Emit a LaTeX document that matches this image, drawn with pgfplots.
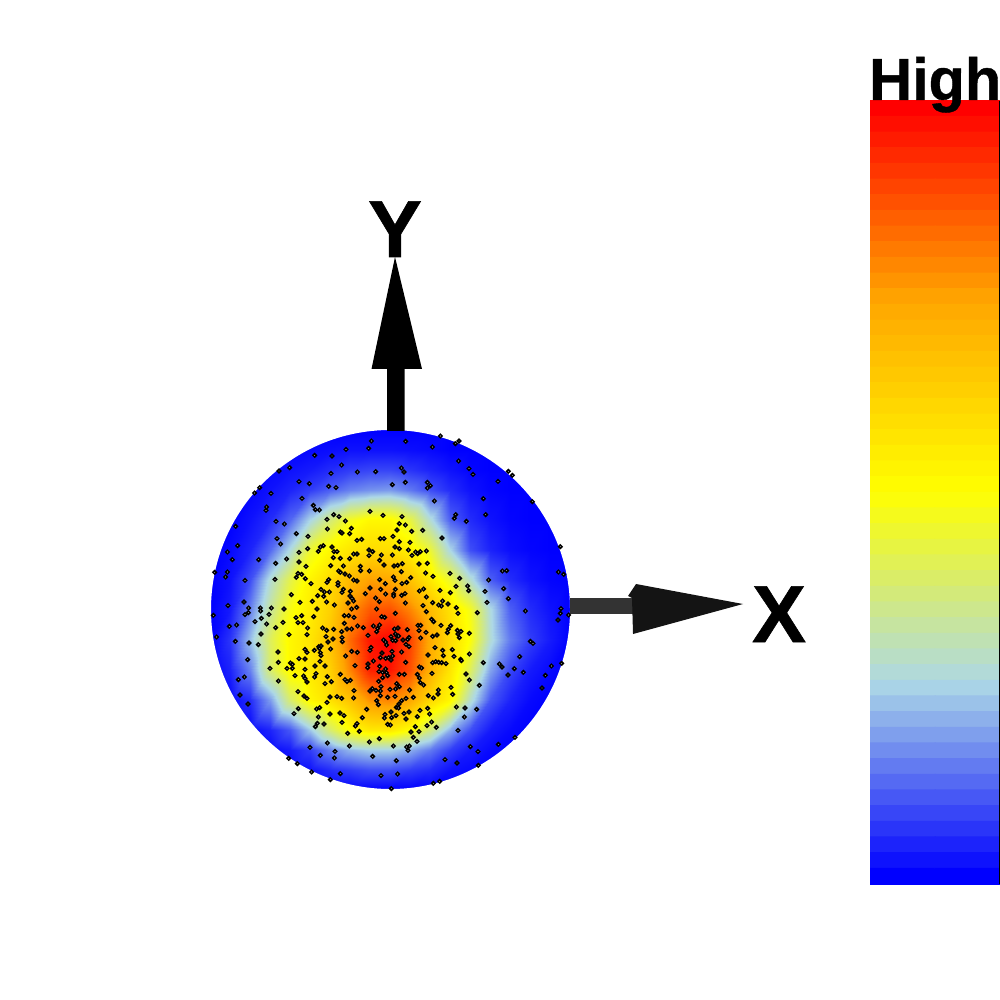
\documentclass[border=0pt]{standalone}
\usepackage{pgfplots}
\pgfplotsset{compat=1.18}
\usepackage{fontspec}
\setmainfont{Liberation Sans}
\newfontfamily\heavy[UprightFont={* Bold},UprightFeatures={FakeBold=0.7}]{Liberation Sans}
\begin{document}
\begin{tikzpicture}
\begin{axis}[
  scale only axis, width=10cm, height=10cm, hide axis,
  xmin=0, xmax=1000, ymin=0, ymax=1000, y dir=reverse,
  point meta min=0, point meta max=1,
  colormap={heat5}{rgb255(0cm)=(0,0,255); rgb255(1cm)=(173,216,230); rgb255(2cm)=(255,255,0); rgb255(3cm)=(255,165,0); rgb255(4cm)=(255,0,0)},
]
\path[use as bounding box] (0,0) rectangle (1000,1000);
\addplot[surf, shader=interp, mesh/cols=19, point meta=explicit] table[x=x, y=y, meta=v, row sep=\\] {
x y v\\
210 430 0\\ 230 430 0\\ 250 430 0\\ 270 430 0\\ 290 430 0\\ 310 430 0\\ 330 430 0\\ 350 430 0\\ 370 430 0\\ 390 430 0\\ 410 430 0\\ 430 430 0\\ 450 430 0\\ 470 430 0\\ 490 430 0\\ 510 430 0\\ 530 430 0\\ 550 430 0\\ 570 430 0\\
210 450 0\\ 230 450 0\\ 250 450 0\\ 270 450 0\\ 290 450 0.005\\ 310 450 0.01\\ 330 450 0.015\\ 350 450 0.02\\ 370 450 0.02\\ 390 450 0.02\\ 410 450 0.015\\ 430 450 0.01\\ 450 450 0\\ 470 450 0\\ 490 450 0\\ 510 450 0\\ 530 450 0\\ 550 450 0\\ 570 450 0\\
210 470 0\\ 230 470 0\\ 250 470 0\\ 270 470 0.01\\ 290 470 0.02\\ 310 470 0.03\\ 330 470 0.05\\ 350 470 0.07\\ 370 470 0.08\\ 390 470 0.08\\ 410 470 0.06\\ 430 470 0.04\\ 450 470 0.02\\ 470 470 0.005\\ 490 470 0\\ 510 470 0\\ 530 470 0\\ 550 470 0\\ 570 470 0\\
210 490 0\\ 230 490 0\\ 250 490 0.005\\ 270 490 0.02\\ 290 490 0.04\\ 310 490 0.07\\ 330 490 0.11\\ 350 490 0.15\\ 370 490 0.17\\ 390 490 0.18\\ 410 490 0.14\\ 430 490 0.09\\ 450 490 0.05\\ 470 490 0.02\\ 490 490 0.005\\ 510 490 0\\ 530 490 0\\ 550 490 0\\ 570 490 0\\
210 520 0\\ 230 520 0\\ 250 520 0.02\\ 270 520 0.05\\ 290 520 0.12\\ 310 520 0.25\\ 330 520 0.37\\ 350 520 0.47\\ 370 520 0.52\\ 390 520 0.52\\ 410 520 0.43\\ 430 520 0.27\\ 450 520 0.11\\ 470 520 0.05\\ 490 520 0.02\\ 510 520 0.005\\ 530 520 0\\ 550 520 0\\ 570 520 0\\
210 550 0\\ 230 550 0.01\\ 250 550 0.04\\ 270 550 0.12\\ 290 550 0.26\\ 310 550 0.45\\ 330 550 0.52\\ 350 550 0.57\\ 370 550 0.60\\ 390 550 0.59\\ 410 550 0.54\\ 430 550 0.44\\ 450 550 0.25\\ 470 550 0.09\\ 490 550 0.04\\ 510 550 0.015\\ 530 550 0.005\\ 550 550 0\\ 570 550 0\\
210 580 0\\ 230 580 0.02\\ 250 580 0.09\\ 270 580 0.27\\ 290 580 0.42\\ 310 580 0.53\\ 330 580 0.60\\ 350 580 0.70\\ 370 580 0.76\\ 390 580 0.74\\ 410 580 0.67\\ 430 580 0.56\\ 450 580 0.45\\ 470 580 0.28\\ 490 580 0.11\\ 510 580 0.05\\ 530 580 0.02\\ 550 580 0.005\\ 570 580 0\\
210 610 0\\ 230 610 0.03\\ 250 610 0.15\\ 270 610 0.33\\ 290 610 0.48\\ 310 610 0.55\\ 330 610 0.63\\ 350 610 0.78\\ 370 610 0.87\\ 390 610 0.88\\ 410 610 0.80\\ 430 610 0.69\\ 450 610 0.58\\ 470 610 0.47\\ 490 610 0.26\\ 510 610 0.11\\ 530 610 0.05\\ 550 610 0.02\\ 570 610 0\\
210 640 0\\ 230 640 0.06\\ 250 640 0.22\\ 270 640 0.40\\ 290 640 0.52\\ 310 640 0.57\\ 330 640 0.67\\ 350 640 0.84\\ 370 640 0.97\\ 390 640 1\\ 410 640 0.90\\ 430 640 0.73\\ 450 640 0.60\\ 470 640 0.49\\ 490 640 0.27\\ 510 640 0.14\\ 530 640 0.07\\ 550 640 0.03\\ 570 640 0\\
210 670 0\\ 230 670 0.04\\ 250 670 0.15\\ 270 670 0.38\\ 290 670 0.52\\ 310 670 0.56\\ 330 670 0.63\\ 350 670 0.80\\ 370 670 0.95\\ 390 670 0.97\\ 410 670 0.88\\ 430 670 0.72\\ 450 670 0.57\\ 470 670 0.40\\ 490 670 0.19\\ 510 670 0.08\\ 530 670 0.03\\ 550 670 0.01\\ 570 670 0\\
210 700 0\\ 230 700 0.01\\ 250 700 0.05\\ 270 700 0.18\\ 290 700 0.38\\ 310 700 0.52\\ 330 700 0.58\\ 350 700 0.67\\ 370 700 0.78\\ 390 700 0.80\\ 410 700 0.74\\ 430 700 0.61\\ 450 700 0.52\\ 470 700 0.28\\ 490 700 0.10\\ 510 700 0.04\\ 530 700 0.01\\ 550 700 0\\ 570 700 0\\
210 730 0\\ 230 730 0\\ 250 730 0.01\\ 270 730 0.04\\ 290 730 0.10\\ 310 730 0.23\\ 330 730 0.38\\ 350 730 0.50\\ 370 730 0.56\\ 390 730 0.56\\ 410 730 0.50\\ 430 730 0.36\\ 450 730 0.20\\ 470 730 0.09\\ 490 730 0.03\\ 510 730 0.01\\ 530 730 0\\ 550 730 0\\ 570 730 0\\
210 750 0\\ 230 750 0\\ 250 750 0\\ 270 750 0.01\\ 290 750 0.03\\ 310 750 0.07\\ 330 750 0.15\\ 350 750 0.21\\ 370 750 0.24\\ 390 750 0.24\\ 410 750 0.20\\ 430 750 0.14\\ 450 750 0.07\\ 470 750 0.03\\ 490 750 0.01\\ 510 750 0\\ 530 750 0\\ 550 750 0\\ 570 750 0\\
210 770 0\\ 230 770 0\\ 250 770 0\\ 270 770 0\\ 290 770 0.01\\ 310 770 0.02\\ 330 770 0.05\\ 350 770 0.07\\ 370 770 0.09\\ 390 770 0.09\\ 410 770 0.07\\ 430 770 0.05\\ 450 770 0.02\\ 470 770 0.01\\ 490 770 0\\ 510 770 0\\ 530 770 0\\ 550 770 0\\ 570 770 0\\
210 790 0\\ 230 790 0\\ 250 790 0\\ 270 790 0\\ 290 790 0\\ 310 790 0\\ 330 790 0\\ 350 790 0\\ 370 790 0\\ 390 790 0\\ 410 790 0\\ 430 790 0\\ 450 790 0\\ 470 790 0\\ 490 790 0\\ 510 790 0\\ 530 790 0\\ 550 790 0\\ 570 790 0\\
};
\fill[white, even odd rule] (200,420) rectangle (580,800) (390.5,609.5) circle[radius=179.5];
% arrows
\fill[black] (387,431) -- (387,369) -- (371.5,369) -- (395,257) -- (422,369) -- (404.5,369) -- (404.5,431) -- cycle;
\fill[black!80] (570,598) rectangle (634,614);
\fill[black!92] (636,584) -- (743,604) -- (633,634) -- (632,598) -- (628,596) -- cycle;
\node[anchor=base, inner sep=0pt, font=\fontsize{23}{23}\selectfont\heavy] at (395,257) {Y};
\node[anchor=base, inner sep=0pt, font=\fontsize{23}{23}\selectfont\heavy] at (779,642) {X};
% points, read from enlarged crops (crop coordinate /3 + crop origin)
\pgfplotsset{dots/.style={only marks, mark=*, mark size=0.5pt, mark options={fill=white, draw=black, line width=0.42pt}}}
\addplot[dots] table[x expr=210+\thisrowno{0}/3, y expr=430+\thisrowno{1}/3, row sep=\\, header=false] {
484 33\\476 55\\408 58\\366 78\\314 76\\395 105\\239 113\\207 123\\363 130\\442 126\\497 125\\267 155\\298 161\\149 173\\134 189\\183 190\\356 169\\378 173\\276 205\\310 226\\170 231\\168 241\\316 239\\328 240\\480 244\\519 256\\371 254\\387 260\\351 268\\406 273\\198 274\\223 282\\77 289\\352 297\\424 295\\391 306\\396 309\\419 311\\259 311\\294 319\\201 326\\441 331\\455 328\\511 326\\522 326\\212 342\\83 347\\340 347\\331 351\\366 351\\293 356\\325 364\\372 365\\381 365\\267 367\\52 366\\477 360\\488 365\\431 372\\441 372\\514 375\\477 377\\370 383\\391 385\\419 386\\230 387\\146 389\\67 389\\509 391\\522 405\\267 396\\197 400\\362 407\\400 408\\451 409\\288 409\\452 422\\478 423\\386 423\\391 427\\405 432\\52 426\\418 438\\264 430\\275 433\\14 427\\47 441\\259 442\\286 446\\431 450\\441 453\\509 449\\105 451\\195 448\\356 449\\351 457\\384 458\\303 461\\526 461\\384 466\\480 474\\512 478\\333 478\\400 478\\343 486\\358 486\\396 487\\421 484\\466 491\\527 492\\244 494\\323 497\\341 499\\420 498\\426 505\\497 504\\431 513\\508 515\\102 516\\270 517\\307 514\\350 516\\414 519\\54 527\\373 525\\440 532\\116 534\\151 534\\184 534\\222 537\\321 537\\425 537\\500 537\\
};
\addplot[dots] table[x expr=390+\thisrowno{0}/3, y expr=430+\thisrowno{1}/3, row sep=\\, header=false] {
151 18\\47 34\\207 33\\196 41\\127 51\\206 93\\237 116\\34 114\\42 126\\249 133\\355 124\\367 136\\324 154\\7 164\\46 157\\112 157\\121 167\\112 174\\280 206\\133 213\\427 215\\36 260\\197 254\\193 265\\287 254\\229 274\\28 281\\46 285\\21 300\\65 304\\98 301\\9 319\\156 324\\28 335\\60 337\\15 351\\28 356\\55 360\\7 375\\77 366\\83 371\\91 365\\66 376\\109 363\\511 350\\37 401\\87 402\\112 400\\12 408\\23 406\\34 425\\107 429\\337 423\\350 422\\505 426\\521 433\\180 430\\10 441\\62 443\\129 439\\209 445\\15 451\\296 450\\50 457\\36 461\\198 469\\233 468\\341 476\\16 478\\150 481\\88 483\\101 477\\236 482\\285 484\\181 488\\11 492\\45 491\\35 496\\11 498\\109 501\\355 506\\158 513\\46 519\\128 518\\291 517\\146 525\\174 522\\99 527\\154 528\\199 533\\513 536\\
};
\addplot[dots] table[x expr=210+\thisrowno{0}/3, y expr=610+\thisrowno{1}/3, row sep=\\, header=false] {
10 16\\105 14\\115 8\\152 3\\177 13\\154 25\\135 35\\170 42\\58 49\\80 45\\197 53\\219 37\\258 23\\275 17\\311 20\\264 38\\279 38\\293 54\\338 54\\350 61\\371 58\\395 65\\403 40\\411 57\\425 57\\443 48\\460 53\\403 17\\416 17\\432 22\\490 48\\509 45\\503 55\\500 65\\515 20\\524 22\\237 74\\291 74\\153 72\\348 80\\369 87\\396 83\\397 95\\474 76\\20 81\\76 94\\117 99\\145 104\\354 96\\521 90\\527 96\\530 105\\204 126\\285 118\\291 127\\313 121\\326 110\\333 108\\328 115\\362 117\\425 124\\442 127\\483 112\\480 121\\331 128\\333 137\\407 138\\516 129\\113 149\\267 146\\285 147\\205 157\\241 159\\247 163\\345 168\\330 154\\315 168\\474 162\\490 153\\511 143\\527 145\\536 143\\435 167\\180 175\\231 175\\247 175\\285 178\\473 173\\509 169\\527 177\\507 185\\518 187\\529 188\\391 193\\318 191\\314 201\\255 197\\281 198\\285 205\\352 200\\103 201\\85 209\\205 213\\291 216\\405 209\\421 211\\411 215\\345 221\\364 215\\506 214\\518 203\\533 197\\264 245\\432 242\\480 243\\487 236\\498 241\\513 230\\511 243\\511 257\\533 262\\90 255\\282 258\\291 265\\360 261\\381 260\\395 265\\431 264\\500 272\\351 277\\114 282\\505 284\\265 296\\320 297\\329 293\\390 309\\402 317\\360 312\\252 311\\470 298\\325 321\\525 313\\523 324\\457 323\\322 340\\342 342\\396 337\\316 350\\441 341\\436 348\\533 343\\448 364\\413 370\\508 386\\478 396\\352 399\\300 412\\418 408\\375 424\\331 436\\373 444\\488 439\\236 445\\262 461\\305 486\\391 491\\513 497\\361 509\\
};
\addplot[dots] table[x expr=390+\thisrowno{0}/3, y expr=610+\thisrowno{1}/3, row sep=\\, header=false] {
16 10\\109 5\\204 10\\262 8\\406 3\\511 10\\536 15\\504 30\\125 28\\131 35\\84 46\\92 46\\153 46\\182 47\\175 58\\172 68\\13 57\\24 54\\52 59\\87 62\\108 67\\202 61\\213 64\\204 72\\238 70\\141 75\\128 79\\208 83\\57 82\\53 88\\92 84\\16 72\\21 78\\26 78\\3 80\\8 91\\17 92\\39 90\\421 94\\429 100\\48 103\\57 110\\135 113\\187 119\\158 121\\6 124\\35 126\\238 132\\114 135\\160 137\\192 139\\389 140\\8 138\\3 150\\212 148\\214 152\\137 155\\128 158\\146 157\\155 158\\168 161\\47 157\\280 158\\328 162\\336 171\\373 176\\88 171\\95 174\\484 168\\515 160\\126 190\\82 193\\28 193\\43 193\\400 187\\354 195\\228 192\\466 196\\88 204\\238 210\\91 218\\101 225\\20 221\\28 230\\17 237\\0 238\\59 240\\268 226\\183 232\\456 234\\145 240\\144 252\\188 253\\115 257\\130 264\\15 259\\48 265\\70 262\\35 272\\27 282\\19 292\\26 294\\199 291\\225 294\\260 298\\113 295\\90 301\\57 306\\42 310\\3 306\\18 317\\5 323\\119 312\\82 320\\223 321\\48 327\\125 336\\111 347\\76 350\\139 352\\1 345\\204 361\\63 366\\87 365\\70 382\\375 382\\81 394\\10 408\\58 408\\50 411\\54 421\\241 410\\325 403\\264 425\\165 449\\201 459\\19 452\\265 466\\23 492\\149 514\\130 520\\4 536\\
};
% colour bar: 50 bands
\addplot[matrix plot*, draw=none, mesh/cols=2, point meta=explicit] table[x=x, y=y, meta=v, row sep=\\] {
x y v\\
903 108.8 1\\967.5 108.8 1\\903 124.5 .9796\\967.5 124.5 .9796\\903 140.1 .9592\\967.5 140.1 .9592\\903 155.8 .9388\\967.5 155.8 .9388\\903 171.5 .9184\\967.5 171.5 .9184\\
903 187.1 .898\\967.5 187.1 .898\\903 202.8 .8776\\967.5 202.8 .8776\\903 218.4 .8571\\967.5 218.4 .8571\\903 234.1 .8367\\967.5 234.1 .8367\\903 249.8 .8163\\967.5 249.8 .8163\\
903 265.4 .7959\\967.5 265.4 .7959\\903 281.1 .7755\\967.5 281.1 .7755\\903 296.8 .7551\\967.5 296.8 .7551\\903 312.4 .7347\\967.5 312.4 .7347\\903 328.1 .7143\\967.5 328.1 .7143\\
903 343.7 .6939\\967.5 343.7 .6939\\903 359.4 .6735\\967.5 359.4 .6735\\903 375.1 .6531\\967.5 375.1 .6531\\903 390.7 .6327\\967.5 390.7 .6327\\903 406.4 .6122\\967.5 406.4 .6122\\
903 422.1 .5918\\967.5 422.1 .5918\\903 437.7 .5714\\967.5 437.7 .5714\\903 453.4 .551\\967.5 453.4 .551\\903 469.0 .5306\\967.5 469.0 .5306\\903 484.7 .5102\\967.5 484.7 .5102\\
903 500.4 .4898\\967.5 500.4 .4898\\903 516.0 .4694\\967.5 516.0 .4694\\903 531.7 .449\\967.5 531.7 .449\\903 547.4 .4286\\967.5 547.4 .4286\\903 563.0 .4082\\967.5 563.0 .4082\\
903 578.7 .3878\\967.5 578.7 .3878\\903 594.3 .3673\\967.5 594.3 .3673\\903 610.0 .3469\\967.5 610.0 .3469\\903 625.7 .3265\\967.5 625.7 .3265\\903 641.3 .3061\\967.5 641.3 .3061\\
903 657.0 .2857\\967.5 657.0 .2857\\903 672.7 .2653\\967.5 672.7 .2653\\903 688.3 .2449\\967.5 688.3 .2449\\903 704.0 .2245\\967.5 704.0 .2245\\903 719.6 .2041\\967.5 719.6 .2041\\
903 735.3 .1837\\967.5 735.3 .1837\\903 751.0 .1633\\967.5 751.0 .1633\\903 766.6 .1429\\967.5 766.6 .1429\\903 782.3 .1224\\967.5 782.3 .1224\\903 798.0 .102\\967.5 798.0 .102\\
903 813.6 .0816\\967.5 813.6 .0816\\903 829.3 .0612\\967.5 829.3 .0612\\903 844.9 .0408\\967.5 844.9 .0408\\903 860.6 .0204\\967.5 860.6 .0204\\903 876.3 0\\967.5 876.3 0\\
};
\draw[black, line width=0.28pt] (999.5,101) -- (999.5,884);
\node[anchor=base west, inner sep=0pt, font=\fontsize{16.9}{17}\selectfont\heavy] at (868.5,100) {High};
\end{axis}
\end{tikzpicture}
\end{document}
